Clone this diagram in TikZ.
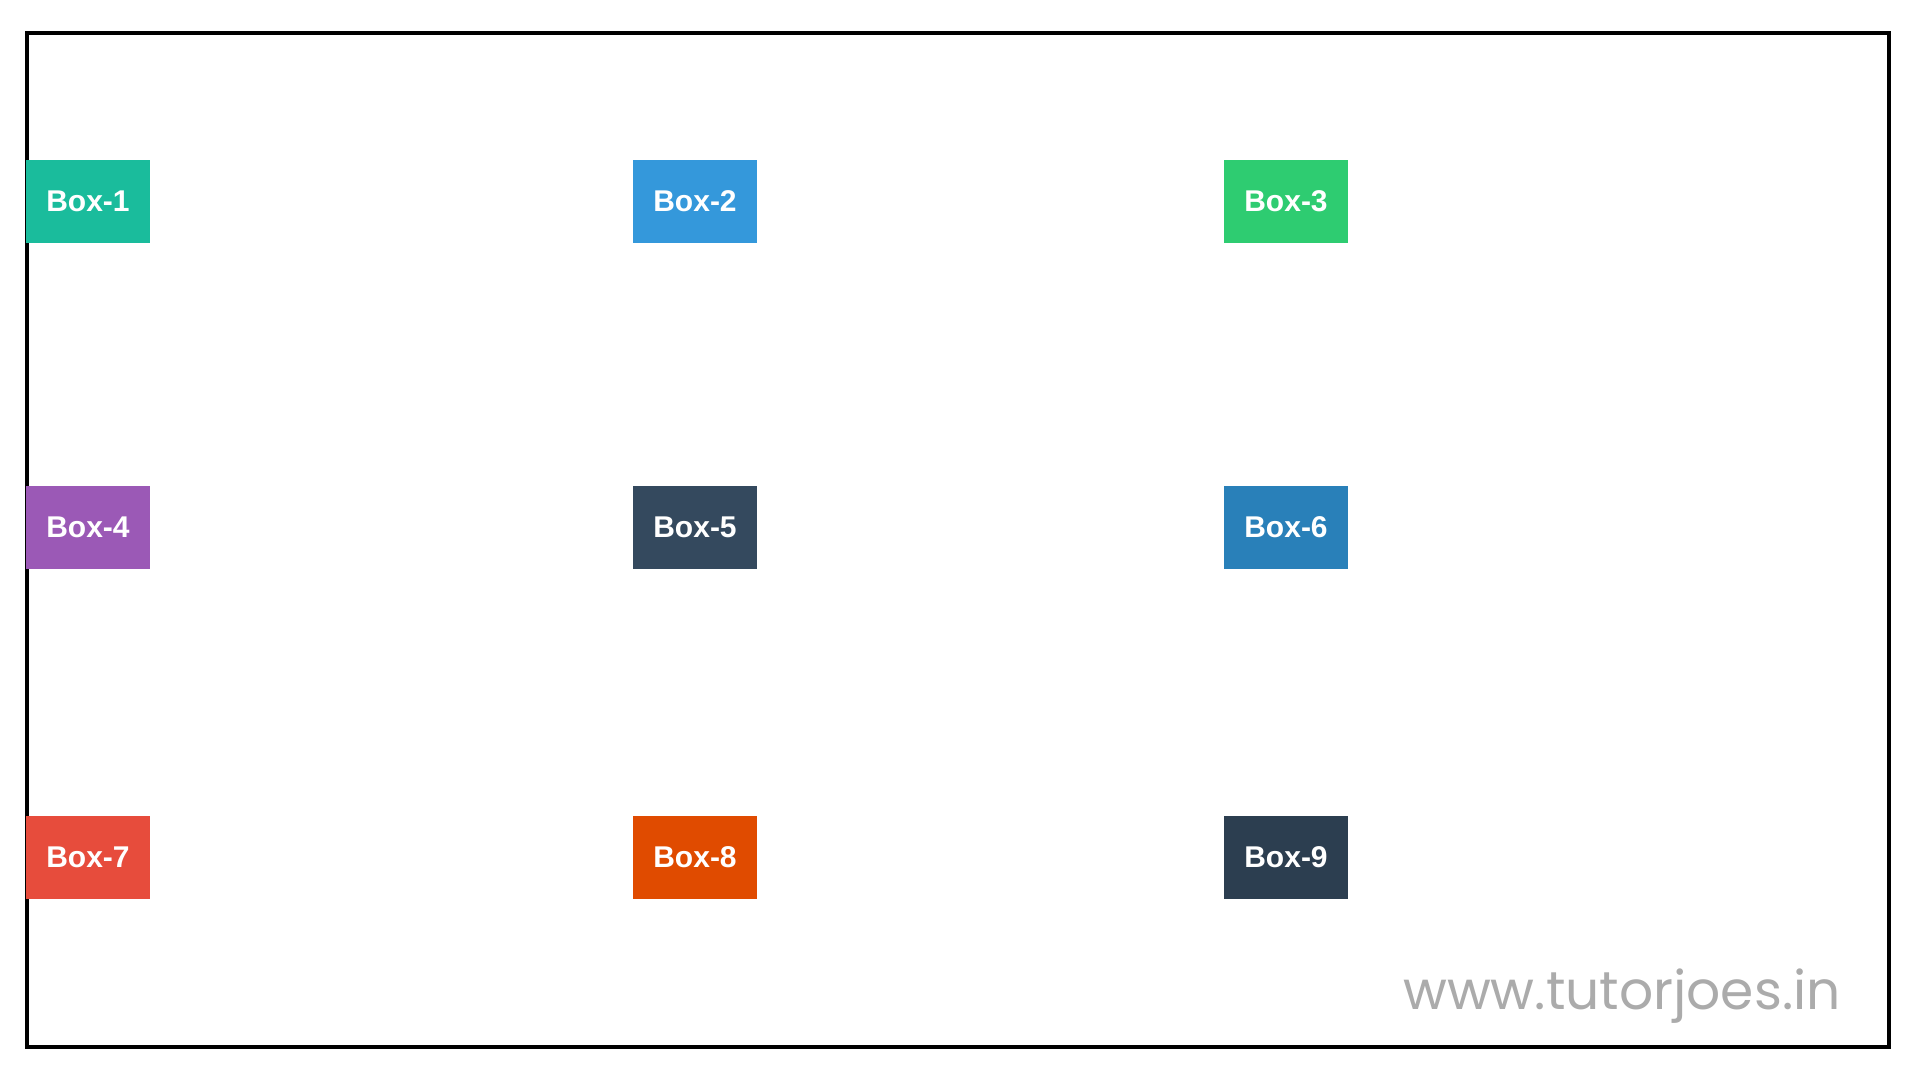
\documentclass[tikz,border=0pt]{standalone}
\usepackage{fontspec}
\setmainfont{Liberation Sans}
\newfontfamily\urlfont{Poppins}
\definecolor{turq}{HTML}{1ABC9C}
\definecolor{sky}{HTML}{3498DB}
\definecolor{emer}{HTML}{2ECC71}
\definecolor{amethyst}{HTML}{9B59B6}
\definecolor{asphalt}{HTML}{34495E}
\definecolor{belize}{HTML}{2980B9}
\definecolor{alizarin}{HTML}{E74C3C}
\definecolor{pumpkin}{HTML}{E04B00}
\definecolor{midnight}{HTML}{2C3E50}
\definecolor{urlgray}{HTML}{ABABAB}
\tikzset{
box/.style={
  fill=#1,text=white,minimum width=124pt,minimum height=83pt,
  inner sep=0pt,font=\fontsize{30}{36}\selectfont\bfseries}}

\begin{document}
\begin{tikzpicture}[x=1pt,y=-1pt]
\useasboundingbox[fill=white] (0,0) rectangle (1920,1080);
\draw[line width=4pt] (27,33) rectangle (1889,1047);
\node[box=turq] (b1) at (88,201) {Box-1};
\node[box=sky] (b2) at (695,201) {Box-2};
\node[box=emer] (b3) at (1286,201) {Box-3};
\node[box=amethyst] (b4) at (88,527) {Box-4};
\node[box=asphalt] (b5) at (695,527) {Box-5};
\node[box=belize] (b6) at (1286,527) {Box-6};
\node[box=alizarin] (b7) at (88,857) {Box-7};
\node[box=pumpkin] (b8) at (695,857) {Box-8};
\node[box=midnight] (b9) at (1286,857) {Box-9};
% watermark
\node[anchor=base west,inner sep=0pt,text=urlgray,
  font=\urlfont\fontsize{53.5}{60}\selectfont] (url) at (1403,1009) {www.tutorjoes.in};

\end{tikzpicture}
\end{document}
